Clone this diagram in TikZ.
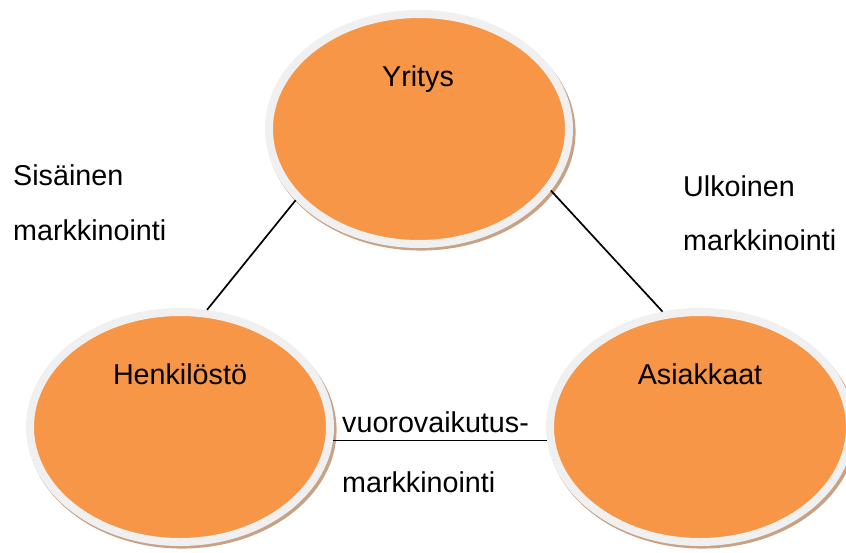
\documentclass[tikz,border=0pt]{standalone}
\usepackage{fontspec}
\setmainfont{Liberation Sans}
\usetikzlibrary{shapes.geometric,shadows}
\definecolor{orangefill}{HTML}{F79646}
\definecolor{ringgray}{HTML}{F0F0F0}
\definecolor{shadowc}{HTML}{C9A285}
\begin{document}
\begin{tikzpicture}[x=1pt,y=-1pt,
  circ/.style={ellipse, fill=orangefill, draw=ringgray, line width=8pt,
    minimum width=300pt, minimum height=230pt, inner sep=0pt,
    general shadow={fill=shadowc, shadow scale=1.03, shadow xshift=2pt, shadow yshift=-3pt}},
  lbl/.style={inner sep=0pt, font=\fontsize{28.7}{34}\selectfont},
  conn/.style={draw=black, line width=1.7pt}]
\useasboundingbox (0,0) rectangle (846,552);
\node[circ] (yr) at (419,129) {};
\node[circ] (he) at (180,427) {};
\node[circ] (as) at (700,427) {};
\node[lbl, anchor=base] (tyr) at (418,86) {Yritys};
\node[lbl, anchor=base] (the) at (180,384) {Henkilöstö};
\node[lbl, anchor=base] (tas) at (700,384) {Asiakkaat};
\node[lbl, anchor=base west] (s1) at (13,185) {Sisäinen};
\node[lbl, anchor=base west] (s2) at (13,240) {markkinointi};
\node[lbl, anchor=base west] (u1) at (683,196) {Ulkoinen};
\node[lbl, anchor=base west] (u2) at (683,250) {markkinointi};
\node[lbl, anchor=base west] (v1) at (342,432) {vuorovaikutus-};
\node[lbl, anchor=base west] (v2) at (342,492) {markkinointi};
\draw[conn] (yr.210.9) -- (he.77.7);
\draw[conn] (yr.335.2) -- (as.108.7);
\draw[conn] (he.-5) -- (as.185);
\end{tikzpicture}
\end{document}
